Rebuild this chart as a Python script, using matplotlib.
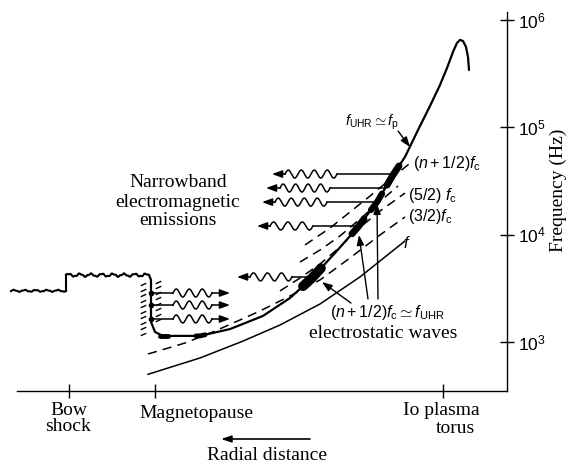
import numpy as np
import matplotlib
matplotlib.use('Agg')
import matplotlib.pyplot as plt
from matplotlib.ticker import NullLocator

plt.rcParams['mathtext.fontset'] = 'custom'
plt.rcParams['mathtext.rm'] = 'Liberation Sans'
plt.rcParams['mathtext.it'] = 'Liberation Sans:italic'
plt.rcParams['mathtext.bf'] = 'Liberation Sans:bold'

SERIF = 'Liberation Serif'
W, H = 575, 466
PX_DEC = 107.33  # pixels per decade in the reference, used for wiggle sizes only

# x = position along the track (arbitrary units), y = frequency (Hz)

# upper hybrid / plasma frequency  f_UHR ~ f_p
uhr_x = [149, 151, 151, 151, 155, 163, 200, 230, 263, 290, 312, 335, 358, 377,
         393, 405, 418, 430, 440, 447, 453, 457, 460, 463, 466, 468, 469]
uhr_f = [4200, 3800, 2460, 1540, 1240, 1140, 1140, 1320, 1750, 2570, 3950, 6750,
         11800, 20100, 36000, 53000, 94400, 158000, 248000, 357000, 504000,
         611000, 652000, 637000, 561000, 452000, 342000]

# magnetosheath / solar wind step
sheath_x = [11, 66, 149]
sheath_f = [3000, 4200]

# electron cyclotron frequency f_c
fc_x = [148, 175, 200, 243, 280, 320, 360, 405]
fc_f = [500, 600, 710, 1020, 1440, 2260, 4040, 8730]

# (n+1/2) f_c harmonics
h32_x = [148, 165, 185, 215, 240, 260, 290, 320, 350, 380, 405]
h32_f = [773, 861, 979, 1266, 1604, 1945, 2685, 3785, 6067, 9933, 14620]
h52_x = [280, 300, 320, 340, 358, 380, 405]
h52_f = [2990, 3945, 5330, 7670, 11300, 16600, 24400]
h72_x = [300, 320, 340, 360, 377, 398]
h72_f = [5560, 7190, 9725, 13990, 19320, 28380]
hn_x = [305, 330, 350, 370, 393, 409]
hn_f = [8020, 11530, 16260, 22910, 34440, 45500]

# escaping narrowband emissions (source on f_UHR, arrow tip)
em_f = [36700, 27200, 20100, 12050, 4040]
em_src = [393, 384, 377, 358, 312]
em_tip = [272, 266, 262, 257, 237]
em_wave = [(285, 337), (280, 330), (275, 327), (270, 313), (250, 292)]
# emissions at the magnetopause
mp_f = [2860, 2210, 1640]

tick_pos = [69, 155, 443]
yticks = [1e3, 1e4, 1e5, 1e6]
ytick_labels = ['$10^{3}$', '$10^{4}$', '$10^{5}$', '$10^{6}$']


def wave(x0, x1, f0, amp=4.0, period=13.0):
    n = max(1, round((x1 - x0) / period))
    x = np.linspace(x0, x1, 200)
    return x, f0 * 10 ** (amp / PX_DEC * np.sin(2 * np.pi * n * (x - x0) / (x1 - x0)))


def rough(x0, x1, f0, amp):
    x = np.linspace(x0, x1, 300)
    y = amp * np.sin(2 * np.pi * x / 11.0) + 0.4 * amp * np.sin(2 * np.pi * x / 4.1)
    return x, f0 * 10 ** (y / PX_DEC)


def head(ax, x, f, direction, lw=1.1):
    ax.annotate('', xy=(x, f), xytext=(x + 6 * direction, f),
                arrowprops=dict(arrowstyle='-|>,head_length=0.6,head_width=0.22',
                                color='black', lw=lw, shrinkA=0, shrinkB=0))


fig = plt.figure(figsize=(W / 100, H / 100), dpi=100)
ax = fig.add_axes([0, 75 / H, 507 / W, 379 / H])
ax.set_yscale('log')
ax.set_xlim(0, 507)
ax.set_ylim(349.6, 1.187e6)

# main curves
ax.plot(uhr_x, uhr_f, color='black', lw=1.6, solid_capstyle='round')
ax.plot(fc_x, fc_f, color='black', lw=1.1)
for hx, hf in [(h32_x, h32_f), (h52_x, h52_f), (h72_x, h72_f), (hn_x, hn_f)]:
    ax.plot(hx, hf, color='black', lw=1.1, dashes=(6, 4))

# sheath (rough line with a step at the bow shock)
x, y = rough(sheath_x[0], sheath_x[1], sheath_f[0], 0.8)
ax.plot(x, y, color='black', lw=1.5)
ax.plot([sheath_x[1], sheath_x[1]], sheath_f, color='black', lw=1.5)
x, y = rough(sheath_x[1], sheath_x[2], sheath_f[1], 1.3)
ax.plot(x, y, color='black', lw=1.5)

# hatching at the magnetopause
hatch = [(-1, -0.45), (1, 0.45)]
ax.plot([143] * 10, [1200 * 10 ** (k * 5.5 / PX_DEC) for k in range(10)], ls='none',
        marker=hatch, ms=4, mew=1.0, color='black')
ax.plot([158] * 8, [1600 * 10 ** (k * 5.5 / PX_DEC) for k in range(8)], ls='none',
        marker=hatch, ms=4, mew=1.0, color='black')

# thick source regions on the f_UHR curve
ux = np.array(uhr_x[5:], dtype=float)
ulog = np.log10(uhr_f[5:])
for x0, x1, lw in [(303, 321, 7), (352, 364, 5), (371, 382, 4.5), (387, 399, 5),
                   (160, 168, 3.5), (196, 205, 3.5)]:
    xs = np.linspace(x0, x1, 20)
    ax.plot(xs, 10 ** np.interp(xs, ux, ulog), color='black', lw=lw,
            solid_capstyle='round')

# escaping emissions
for f0, xs, xt, (w0, w1) in zip(em_f, em_src, em_tip, em_wave):
    ax.plot([xs, w1], [f0, f0], color='black', lw=1.1)
    x, y = wave(w0, w1, f0)
    ax.plot(x, y, color='black', lw=1.1)
    ax.plot([w0, xt + 4], [f0, f0], color='black', lw=1.1)
    head(ax, xt, f0, 1)

for f0 in mp_f:
    ax.plot([151, 173], [f0, f0], color='black', lw=1.1)
    x, y = wave(173, 212, f0)
    ax.plot(x, y, color='black', lw=1.1)
    ax.plot([212, 226], [f0, f0], color='black', lw=1.1)
    head(ax, 230, f0, -1)
ax.plot([151] * 3, mp_f, ls='none', marker='o', ms=3, color='black')

# pointer arrows
pointer = dict(arrowstyle='-|>,head_length=0.6,head_width=0.22', color='black',
               lw=1.0, shrinkA=0, shrinkB=0)
ax.annotate('', xy=(410, 65600), xytext=(398, 92500), arrowprops=pointer)
ax.annotate('', xy=(322, 3622), xytext=(351, 2306), arrowprops=pointer)
ax.annotate('', xy=(359, 9930), xytext=(368, 2518), arrowprops=pointer)
ax.annotate('', xy=(377, 19320), xytext=(378, 2518), arrowprops=pointer)

# axes
for s in ['top', 'left']:
    ax.spines[s].set_visible(False)
ax.spines['bottom'].set_bounds(17, 507)
ax.spines['bottom'].set_linewidth(1.0)
ax.spines['right'].set_linewidth(1.0)
ax.yaxis.tick_right()
ax.set_yticks(yticks)
ax.set_yticklabels(ytick_labels)
ax.yaxis.set_minor_locator(NullLocator())
ax.tick_params(axis='y', direction='inout', length=10, width=1.0, pad=3, labelsize=12.5)
ax.set_xticks(tick_pos)
ax.set_xticklabels([])
ax.tick_params(axis='x', direction='inout', length=10, width=1.0)


def ftxt(x, y, s, **kw):
    fig.text(x / W, 1 - y / H, s, **kw)


serif = dict(family=SERIF, fontsize=14, ha='center', va='baseline')
ftxt(69, 415, 'Bow', **serif)
ftxt(68, 431, 'shock', **serif)
ftxt(196, 418, 'Magnetopause', **serif)
ftxt(441, 415, 'Io plasma', **serif)
ftxt(455, 433, 'torus', **serif)
ftxt(267, 460, 'Radial distance', **serif)
ftxt(178, 187, 'Narrowband', **serif)
ftxt(178, 207, 'electromagnetic', **serif)
ftxt(178, 225, 'emissions', **serif)
ftxt(383, 338, 'electrostatic waves', **serif)
ftxt(558, 190, 'Frequency (Hz)', family=SERIF, fontsize=14, rotation=90,
     ha='center', va='center')
fig.add_artist(plt.Annotation('', xy=(221 / W, 1 - 439 / H), xytext=(310 / W, 1 - 439 / H),
                              xycoords='figure fraction',
                              arrowprops=dict(arrowstyle='-|>,head_length=0.6,head_width=0.2',
                                              color='black', lw=1.2, shrinkA=0, shrinkB=0)))

sans = dict(fontsize=11.5, ha='left', va='baseline')
ftxt(345, 126, r'$f_{\rm UHR}\simeq f_{\rm p}$', fontsize=10.5, ha='left', va='baseline')
ftxt(413, 168, r'$(n+1/2)f_{\rm c}$', **sans)
ftxt(408, 200, r'$(5/2)\ f_{\rm c}$', **sans)
ftxt(408, 221, r'$(3/2)f_{\rm c}$', **sans)
ftxt(403, 248, r'$f$', **sans)
ftxt(330, 317, r'$(n+1/2)f_{\rm c}\simeq f_{\rm UHR}$', **sans)

fig.savefig('out.png', dpi=100)
